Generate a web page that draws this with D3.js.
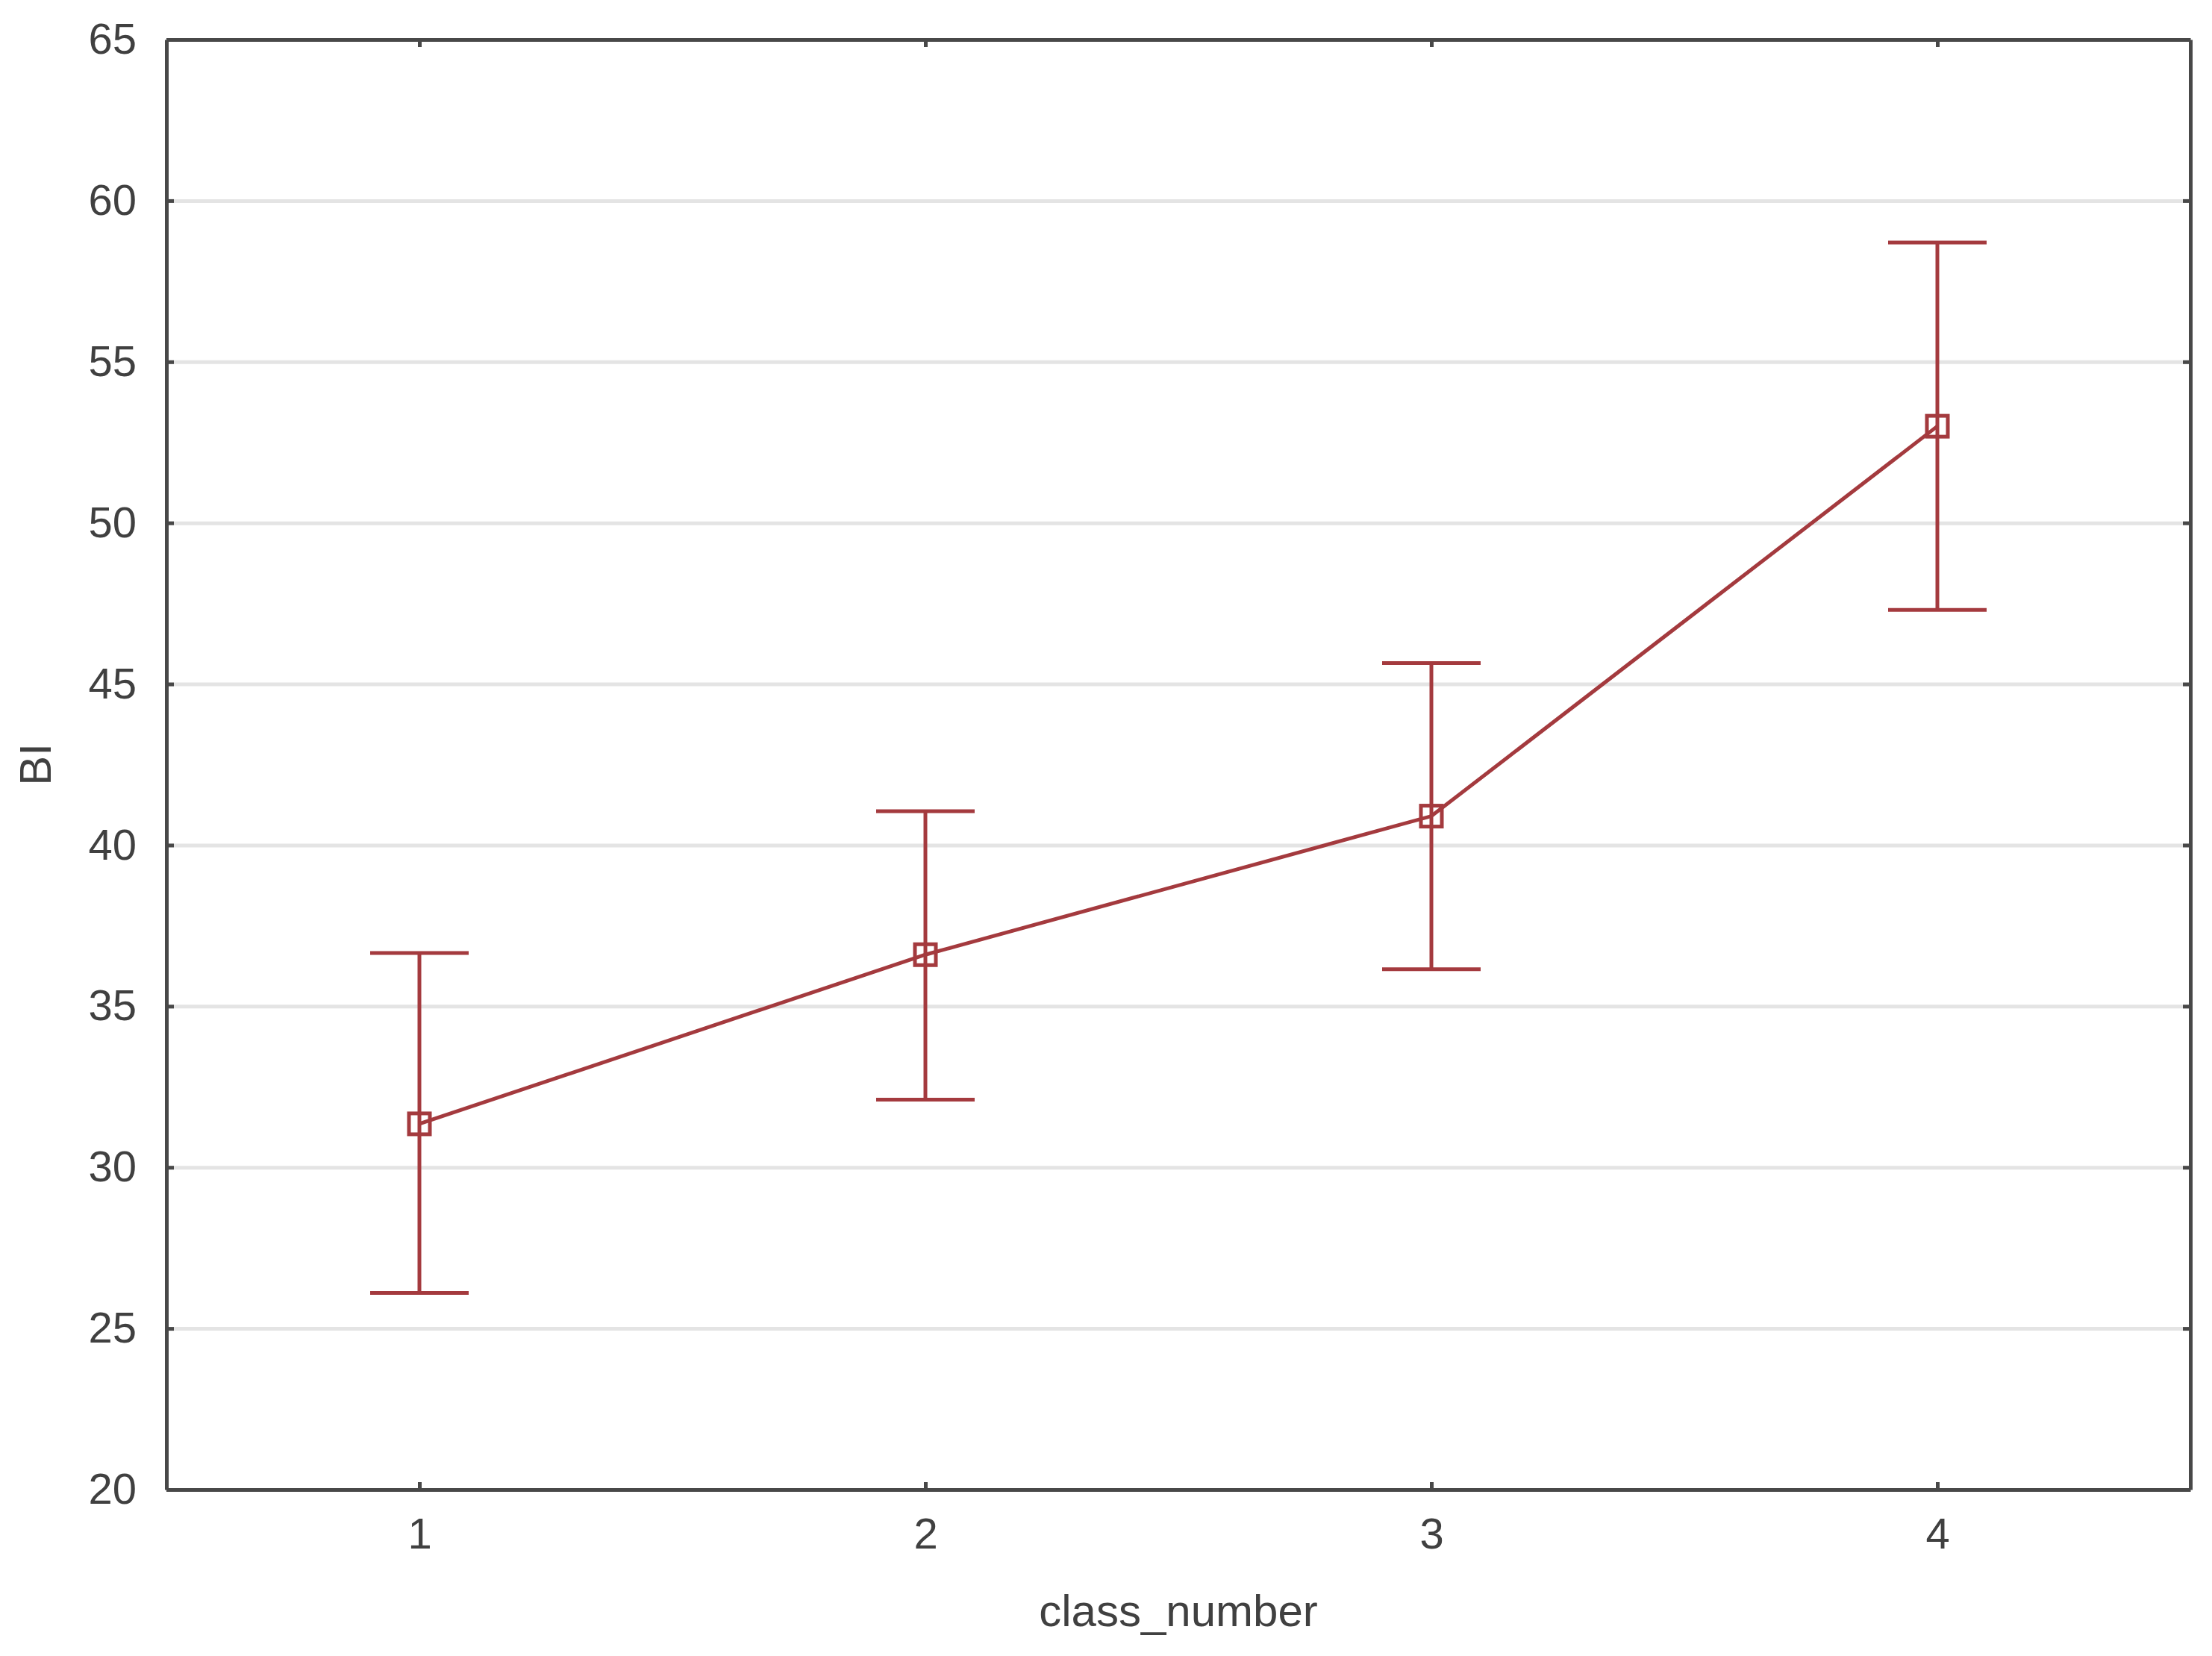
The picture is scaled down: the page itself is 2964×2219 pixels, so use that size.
<!DOCTYPE html>
<meta charset="utf-8">
<style>
body { margin: 0; background: #fff; }
text { font-family: "Liberation Sans", Arial, sans-serif; fill: #404040; }
.tick text { font-size: 58px; }
.frame .domain { stroke: #484848; stroke-width: 5; }
.frame .tick line { stroke: #484848; stroke-width: 5; }
.grid .domain { display: none; }
.grid .tick line { stroke: #e4e4e4; stroke-width: 5; }
.err, .mean { stroke: #a43a3e; stroke-width: 5; fill: none; }
.marker { stroke: #a43a3e; stroke-width: 5; fill: none; }
.label { font-size: 60px; }
</style>
<body>
<script src="https://d3js.org/d3.v7.min.js"></script>
<script>
// data
const classes = [1, 2, 3, 4];
const means   = [31.35, 36.6, 40.9, 53.0];
const upper   = [36.65, 41.05, 45.65, 58.7];
const lower   = [26.1, 32.1, 36.15, 47.3];
const yTicks  = [20, 25, 30, 35, 40, 45, 50, 55, 60, 65];

const margin = {top: 53, right: 29, bottom: 223, left: 223},
      width = 2964 - margin.left - margin.right,
      height = 2219 - margin.top - margin.bottom;

const x = d3.scaleLinear().domain([0.5, 4.5]).range([0, width]);
const y = d3.scaleLinear().domain([20, 65]).range([height, 0]);

const svg = d3.select("body").append("svg")
    .attr("width", 2964)
    .attr("height", 2219)
  .append("g")
    .attr("transform", "translate(" + margin.left + "," + margin.top + ")");

// horizontal grid lines
svg.append("g")
    .attr("class", "grid")
    .call(d3.axisLeft(y).tickValues(yTicks.slice(1, -1)).tickSize(-width).tickFormat(""));

// frame with inward ticks
svg.append("g")
    .attr("class", "frame")
    .call(d3.axisLeft(y).tickValues(yTicks).tickSizeInner(-10).tickSizeOuter(0).tickPadding(40));
svg.append("g")
    .attr("class", "frame")
    .attr("transform", "translate(" + width + ",0)")
    .call(d3.axisRight(y).tickValues(yTicks).tickSizeInner(-10).tickSizeOuter(0).tickFormat(""));
svg.append("g")
    .attr("class", "frame")
    .attr("transform", "translate(0," + height + ")")
    .call(d3.axisBottom(x).tickValues(classes).tickSizeInner(-10).tickSizeOuter(0).tickPadding(38).tickFormat(d3.format("d")));
svg.append("g")
    .attr("class", "frame")
    .call(d3.axisTop(x).tickValues(classes).tickSizeInner(-10).tickSizeOuter(0).tickFormat(""));

const rows = classes.map((c, i) => ({c: c, m: means[i], hi: upper[i], lo: lower[i]}));
const cap = 66;

// error bars
const eb = svg.selectAll(".eb").data(rows).enter().append("g");
eb.append("line").attr("class", "err")
    .attr("x1", d => x(d.c)).attr("x2", d => x(d.c))
    .attr("y1", d => y(d.hi)).attr("y2", d => y(d.lo));
eb.append("line").attr("class", "err")
    .attr("x1", d => x(d.c) - cap).attr("x2", d => x(d.c) + cap)
    .attr("y1", d => y(d.hi)).attr("y2", d => y(d.hi));
eb.append("line").attr("class", "err")
    .attr("x1", d => x(d.c) - cap).attr("x2", d => x(d.c) + cap)
    .attr("y1", d => y(d.lo)).attr("y2", d => y(d.lo));

// mean line
svg.append("path")
    .datum(rows)
    .attr("class", "mean")
    .attr("d", d3.line().x(d => x(d.c)).y(d => y(d.m)));

// square markers
svg.selectAll(".marker")
    .data(rows)
  .enter().append("rect")
    .attr("class", "marker")
    .attr("x", d => x(d.c) - 14)
    .attr("y", d => y(d.m) - 14)
    .attr("width", 28)
    .attr("height", 28);

// axis titles
svg.append("text")
    .attr("class", "label")
    .attr("x", width / 2)
    .attr("y", height + 183)
    .style("text-anchor", "middle")
    .text("class_number");

svg.append("text")
    .attr("class", "label")
    .attr("transform", "rotate(-90)")
    .attr("x", -height / 2)
    .attr("y", -155)
    .style("text-anchor", "middle")
    .text("BI");
</script>
</body>
